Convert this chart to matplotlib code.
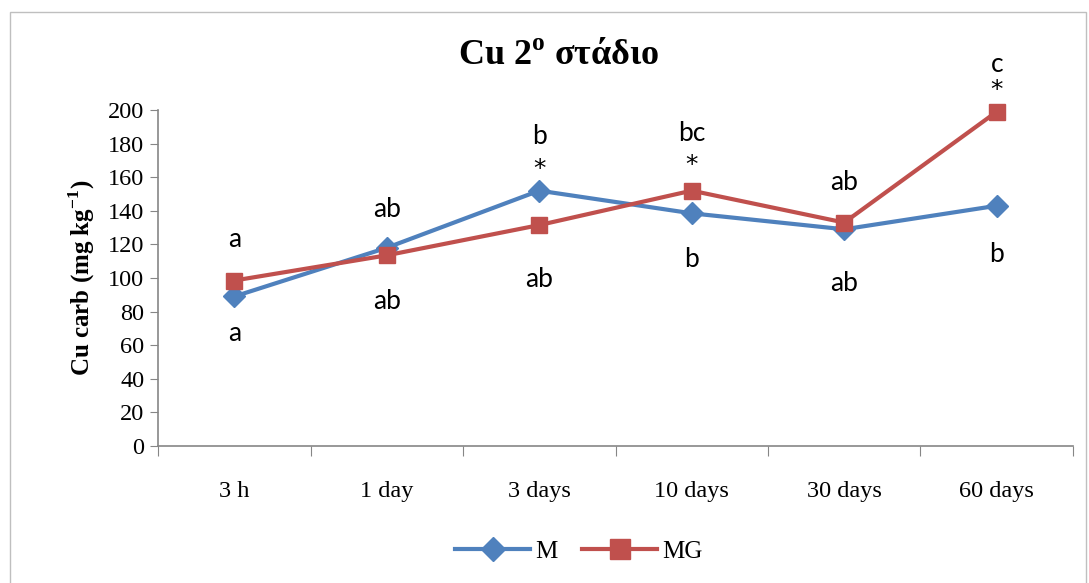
import matplotlib.pyplot as plt
from matplotlib.patches import Rectangle

plt.rcParams['mathtext.fontset'] = 'custom'
plt.rcParams['mathtext.rm'] = 'Liberation Serif'
plt.rcParams['mathtext.bf'] = 'Liberation Serif:bold'

times = ["3 h", "1 day", "3 days", "10 days", "30 days", "60 days"]
m_vals = [89, 118, 152, 138.5, 129, 143]
mg_vals = [98.5, 113.5, 131.5, 152, 133, 199]

# letters above / below each point (text, y in data units)
notes_top = [("a", 123), ("ab", 141), ("b", 184), ("bc", 186), ("ab", 157), ("c", 227)]
notes_star = [None, None, 165, 167, None, 212]
notes_low = [("a", 67), ("ab", 86), ("ab", 99), ("b", 111), ("ab", 97), ("b", 114)]

blue = "#4F81BD"
red = "#C0504D"
grey = "#868686"

fig = plt.figure(figsize=(10.89, 5.83), dpi=100)
fig.patches.append(Rectangle((0.009, -0.01), 0.988, 0.99, transform=fig.transFigure,
                             fill=False, edgecolor="#BFBFBF", linewidth=1))
ax = fig.add_axes([0.1451, 0.235, 0.8402, 0.5763])

x = list(range(len(times)))
ax.plot(x, m_vals, color=blue, lw=3, marker="D", ms=11, label="M", zorder=3, clip_on=False)
ax.plot(x, mg_vals, color=red, lw=3, marker="s", ms=12, label="MG", zorder=4, clip_on=False)

for i in x:
    t, y = notes_top[i]
    ax.text(i, y, t, ha="center", va="center", fontsize=19, family="Lato")
    if notes_star[i] is not None:
        ax.text(i, notes_star[i], "*", ha="center", va="center", fontsize=18,
                family="DejaVu Sans")
    t, y = notes_low[i]
    ax.text(i, y, t, ha="center", va="center", fontsize=19, family="Lato")

ax.set_xlim(-0.5, len(times) - 0.5)
ax.set_ylim(0, 200)
ax.set_yticks(range(0, 201, 20))
ax.set_xticks([i - 0.5 for i in range(len(times) + 1)], minor=False)
ax.set_xticklabels([])
ax.set_xticks(x, minor=True)
ax.set_xticklabels(times, minor=True, family="Liberation Serif", fontsize=17.5)
ax.tick_params(axis="x", which="minor", length=0, pad=25)
ax.tick_params(axis="x", which="major", length=7, color=grey, direction="out")
ax.tick_params(axis="y", length=6, color=grey, direction="out", pad=4)
for lab in ax.get_yticklabels():
    lab.set_family("Liberation Serif")
    lab.set_fontsize(17.5)

for s in ["top", "right"]:
    ax.spines[s].set_visible(False)
for s in ["left", "bottom"]:
    ax.spines[s].set_color(grey)
    ax.spines[s].set_linewidth(1.2)

ax.set_ylabel(r"Cu carb (mg kg$^{\mathbf{-1}}$)", family="Liberation Serif",
              fontweight="bold", fontsize=18, labelpad=8)
fig.text(0.513, 0.905, r"Cu 2$^{\mathbf{o}}$ στάδιο", ha="center", va="center",
         family="Liberation Serif", fontweight="bold", fontsize=26)

ax.legend(loc="center", bbox_to_anchor=(0.46, -0.315), ncol=2, frameon=False,
          prop={"family": "Liberation Serif", "size": 18}, handlelength=3,
          columnspacing=1.0, handletextpad=0.2, markerscale=1.15)

fig.savefig("out.png", dpi=100)
